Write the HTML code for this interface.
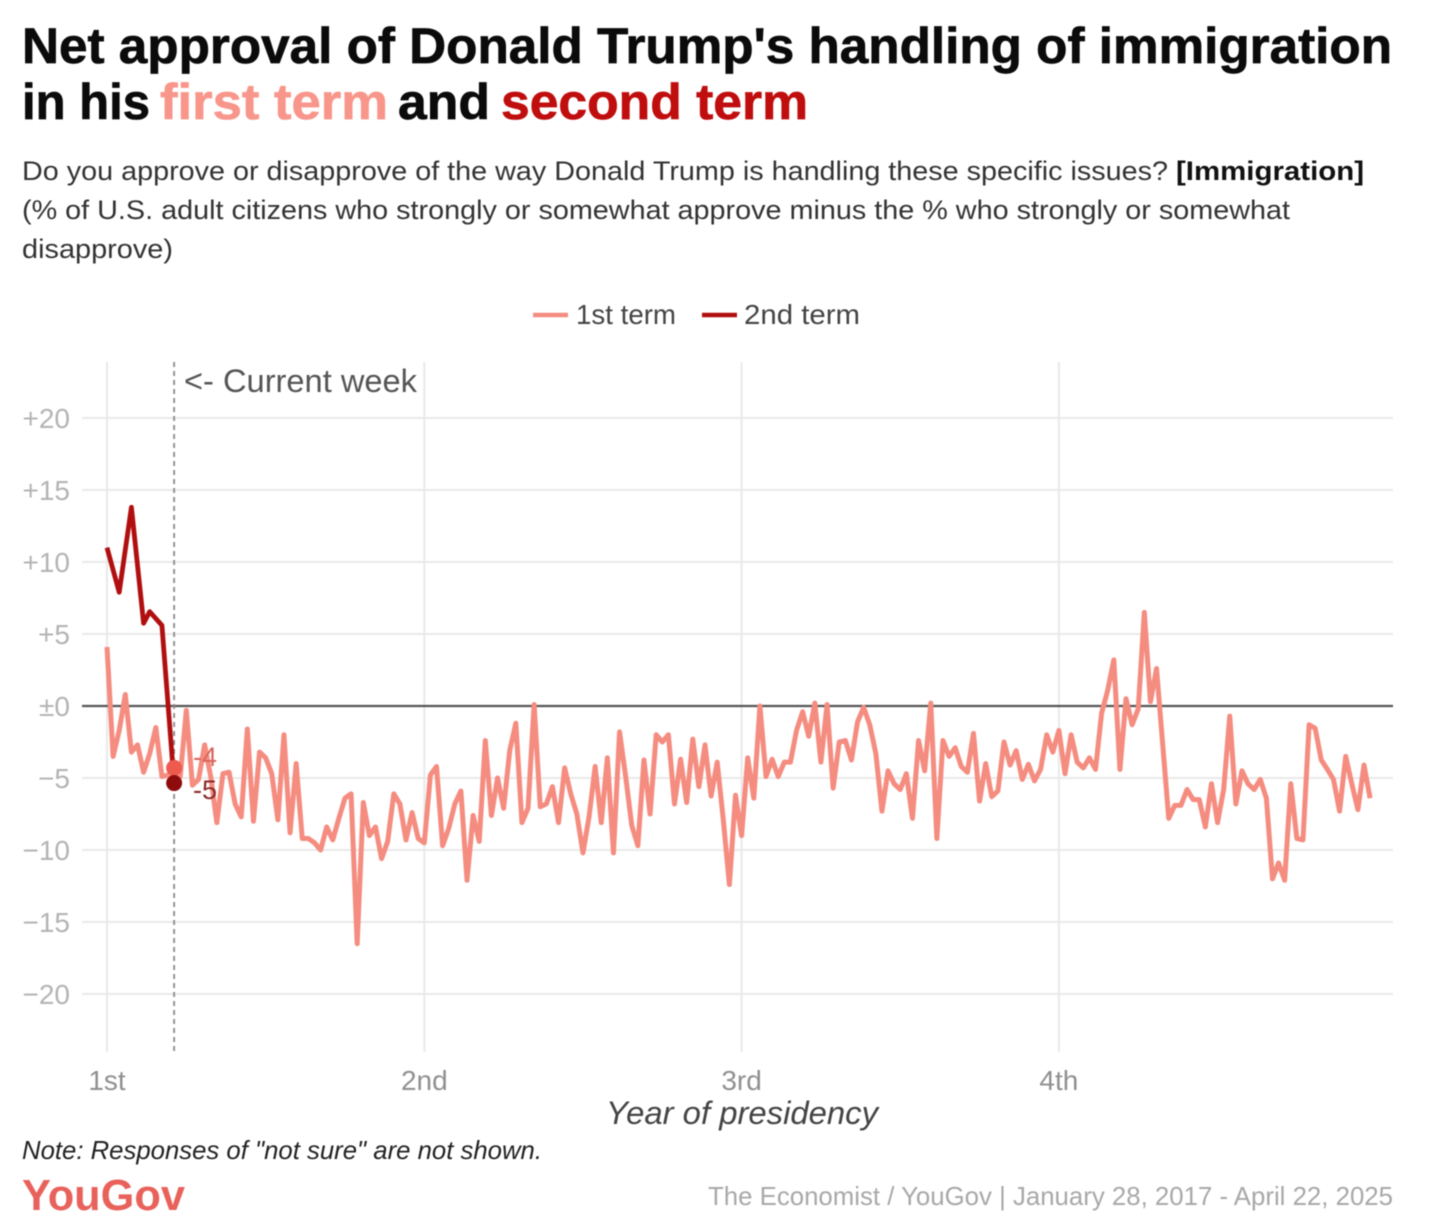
<!DOCTYPE html>
<html lang="en">
<head>
<meta charset="utf-8">
<title>Net approval of Donald Trump's handling of immigration</title>
<style>
html,body{margin:0;padding:0;background:#fff;}
body{width:1456px;height:1228px;overflow:hidden;}
svg{display:block;filter:blur(0.45px);}
text{font-family:"Liberation Sans",sans-serif;}
</style>
</head>
<body>
<svg id="chart" width="1456" height="1228" viewBox="0 0 1456 1228" xmlns="http://www.w3.org/2000/svg">
  <rect x="0" y="0" width="1456" height="1228" fill="#ffffff"/>
  <g font-weight="700" font-size="50" fill="#0b0b0b" stroke="#0b0b0b" stroke-width="0.7">
    <text x="22" y="63" textLength="1370" lengthAdjust="spacingAndGlyphs">Net approval of Donald Trump's handling of immigration</text>
    <text x="22" y="119" textLength="128" lengthAdjust="spacingAndGlyphs">in his</text>
    <text x="160" y="119" textLength="228" lengthAdjust="spacingAndGlyphs" fill="#f9968b" stroke="#f9968b">first term</text>
    <text x="398" y="119" textLength="92" lengthAdjust="spacingAndGlyphs">and</text>
    <text x="501" y="119" textLength="307" lengthAdjust="spacingAndGlyphs" fill="#c00d0d" stroke="#c00d0d">second term</text>
  </g>
  <g font-size="27" fill="#333333">
    <text x="22" y="180" textLength="1146" lengthAdjust="spacingAndGlyphs">Do you approve or disapprove of the way Donald Trump is handling these specific issues?</text>
    <text x="1176" y="180" textLength="188" lengthAdjust="spacingAndGlyphs" font-weight="700" fill="#111111">[Immigration]</text>
    <text x="22" y="219" textLength="1268" lengthAdjust="spacingAndGlyphs">(% of U.S. adult citizens who strongly or somewhat approve minus the % who strongly or somewhat</text>
    <text x="22" y="258" textLength="151" lengthAdjust="spacingAndGlyphs">disapprove)</text>
  </g>
  <g font-size="28" fill="#444444">
    <line x1="533" y1="315" x2="568" y2="315" stroke="#f58c80" stroke-width="4.5"/>
    <text x="576" y="324" textLength="100" lengthAdjust="spacingAndGlyphs">1st term</text>
    <line x1="702" y1="315" x2="737" y2="315" stroke="#b10f0f" stroke-width="4.5"/>
    <text x="744" y="324" textLength="116" lengthAdjust="spacingAndGlyphs">2nd term</text>
  </g>
  <g id="plot"></g>
  <text x="184" y="392" font-size="32" fill="#555555" textLength="233" lengthAdjust="spacingAndGlyphs">&lt;- Current week</text>
  <text x="606" y="1124" font-size="32" font-style="italic" fill="#444444" textLength="272" lengthAdjust="spacingAndGlyphs">Year of presidency</text>
  <text x="22" y="1159" font-size="26" font-style="italic" fill="#222222" textLength="520" lengthAdjust="spacingAndGlyphs">Note: Responses of "not sure" are not shown.</text>
  <text x="22" y="1210" font-size="44" font-weight="700" fill="#e8625b" textLength="163" lengthAdjust="spacingAndGlyphs">YouGov</text>
  <text x="708" y="1205" font-size="26" fill="#a8a8a8" textLength="685" lengthAdjust="spacingAndGlyphs">The Economist / YouGov | January 28, 2017 - April 22, 2025</text>
</svg>
<script>
const yTicks = [20, 15, 10, 5, 0, -5, -10, -15, -20];
const yTickLabels = ['+20', '+15', '+10', '+5', '±0', '−5', '−10', '−15', '−20'];
const yearTicks = [0, 1, 2, 3];
const yearLabels = ['1st', '2nd', '3rd', '4th'];
const currentWeek = 11;
const firstTerm = [
  4.1,-3.5,-1.7,0.8,-3.2,-2.7,-4.6,-3.3,-1.5,-4.9,-4.8,-4.3,-4.9,-0.3,-5.5,-5.1,-2.7,-4.9,-8.1,-4.7,-4.6,-6.8,-7.7,-1.6,-8.0,-3.2,
  -3.6,-4.7,-7.9,-2.0,-8.8,-4.0,-9.2,-9.2,-9.5,-10,-8.4,-9.3,-7.8,-6.4,-6.1,-16.5,-6.7,-9,-8.4,-10.6,-9.4,-6.1,-6.8,-9.3,-7.4,-9.2,
  -9.5,-4.8,-4.2,-9.7,-8.5,-6.8,-5.9,-12.1,-7.6,-9.4,-2.4,-7.6,-5.0,-7.1,-3.1,-1.2,-8.1,-7.1,0.1,-7.0,-6.8,-5.6,-8.1,-4.3,-6.1,-7.5,
  -10.2,-7.7,-4.2,-8.1,-3.6,-10.2,-1.8,-4.9,-8.3,-9.7,-3.75,-7.5,-2.0,-2.5,-2.0,-6.8,-3.7,-6.7,-2.3,-5.6,-2.7,-6.25,-3.9,-7.9,-12.4,
  -6.2,-9,-3.6,-6.4,0,-4.9,-3.7,-4.9,-3.9,-3.9,-1.7,-0.4,-2.1,0.2,-3.9,0.1,-5.7,-2.5,-2.4,-3.75,-1.1,-0.1,-1.3,-3.3,-7.3,-4.5,-5.4,
  -5.8,-4.7,-7.8,-2.4,-4.5,0.2,-9.2,-2.4,-3.5,-2.9,-4.2,-4.6,-1.9,-6.6,-4.0,-6.3,-5.9,-2.5,-4.1,-3.1,-5.1,-4.05,-5.2,-4.4,-2.0,-3.2,-1.7,-4.7,
  -2.0,-3.9,-4.3,-3.6,-4.4,-0.5,1.1,3.2,-4.4,0.5,-1.3,-0.2,6.5,0.3,2.6,-2.6,-7.8,-6.9,-6.9,-5.8,-6.5,-6.5,-8.4,-5.4,-8.1,-5.8,-0.7,-6.8,
  -4.5,-5.4,-5.8,-5.1,-6.4,-12,-10.9,-12.1,-5.4,-9.2,-9.3,-1.3,-1.55,-3.75,-4.4,-5.1,-7.3,-3.5,-5.4,-7.2,-4.1,-6.4
];
const secondTermWeeks = [0, 2, 4, 6, 7, 9, 11];
const secondTerm = [11.0, 7.9, 13.8, 5.75, 6.55, 5.6, -5.35];
const currentLabels = ['-4', '-5'];

const NS = 'http://www.w3.org/2000/svg';
const plot = document.getElementById('plot');
const x = function (week) { return 107 + week * (317.3 / 52); };
const xYear = function (year) { return x(year * 52); };
const y = function (value) { return 706 - value * 14.4; };
function make(tag, attrs, text) {
  const el = document.createElementNS(NS, tag);
  for (const k in attrs) el.setAttribute(k, attrs[k]);
  if (text !== undefined) el.textContent = text;
  plot.appendChild(el);
  return el;
}
function linePath(xs, ys) {
  return xs.map(function (w, i) { return (i ? 'L' : 'M') + x(w).toFixed(2) + ' ' + y(ys[i]).toFixed(2); }).join(' ');
}

yTicks.forEach(function (t, i) {
  if (t === 0) return;
  const g = make('line', { x1: 82, x2: 1393, y1: y(t), y2: y(t), stroke: '#e9e9e9', 'stroke-width': 2 });
  
  
});
yearTicks.forEach(function (t) {
  const g = make('line', { x1: xYear(t), x2: xYear(t), y1: 362, y2: 1052, stroke: '#e9e9e9', 'stroke-width': 2 });
  
  
});
yTicks.forEach(function (t, i) {
  const lab = make('text', { x: 70, y: y(t) + 10, 'text-anchor': 'end', 'font-size': 28, fill: '#b4b4b4' }, yTickLabels[i]);
  
  
});
yearTicks.forEach(function (t, i) {
  const lab = make('text', { x: xYear(t), y: 1090, 'text-anchor': 'middle', 'font-size': 28, fill: '#909090' }, yearLabels[i]);
  
  
});

const zero = make('line', { x1: 82, x2: 1393, y1: y(0), y2: y(0), stroke: '#555555', 'stroke-width': 2.2 });



const marker = make('line', { x1: x(currentWeek), x2: x(currentWeek), y1: 362, y2: 1052, stroke: '#8a8a8a', 'stroke-width': 1.8, 'stroke-dasharray': '5 4' });



const firstWeeks = firstTerm.map(function (_, i) { return i; });
const line1 = make('path', { d: linePath(firstWeeks, firstTerm), fill: 'none', stroke: '#f58c80', 'stroke-width': 5, 'stroke-linejoin': 'round' });



const line2 = make('path', { d: linePath(secondTermWeeks, secondTerm), fill: 'none', stroke: '#b10f0f', 'stroke-width': 4.8, 'stroke-linejoin': 'round' });



const dot1 = make('circle', { cx: x(currentWeek), cy: y(firstTerm[currentWeek]), r: 8, fill: '#ee5a4e' });



const dot2 = make('circle', { cx: x(secondTermWeeks[secondTermWeeks.length - 1]), cy: y(secondTerm[secondTerm.length - 1]), r: 8, fill: '#8e0c0c' });



const lab1 = make('text', { x: 193, y: y(firstTerm[currentWeek]) - 2, 'font-size': 27, fill: '#d9655c' }, currentLabels[0]);



const lab2 = make('text', { x: 193, y: y(secondTerm[secondTerm.length - 1]) + 16, 'font-size': 27, fill: '#8e2a2a' }, currentLabels[1]);


</script>
</body>
</html>
